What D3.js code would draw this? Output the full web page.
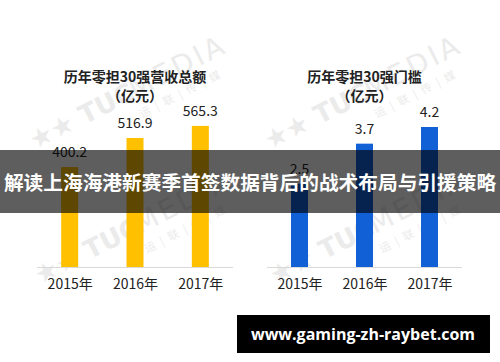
<!DOCTYPE html>
<html><head><meta charset="utf-8">
<script src="https://cdn.jsdelivr.net/npm/d3@7"></script>
<style>html,body{margin:0;padding:0;background:#fff;}svg{display:block;}</style>
</head><body>
<script>
const years = ["2015年", "2016年", "2017年"];
const revenue = [400.2, 516.9, 565.3];
const threshold = [2.5, 3.7, 4.2];
const titles = [["历年零担30强营收总额", "（亿元）"], ["历年零担30强门槛", "（亿元）"]];
const bannerText = "解读上海海港新赛季首签数据背后的战术布局与引援策略";
const footerText = "www.gaming-zh-raybet.com";

const W = 500, H = 362;
const svg = d3.select("body").append("svg").attr("width", W).attr("height", H);
const cjk = "'Noto Sans CJK SC','Noto Sans',sans-serif";

// faint watermarks
function watermark(x, y) {
  const g = svg.append("g").attr("transform", `translate(${x},${y}) rotate(-27)`).attr("fill", "#ebebeb");
  g.append("text").attr("x", 0).attr("y", 0).attr("font-family", "'DejaVu Sans',sans-serif")
    .attr("font-size", 26).attr("font-weight", "bold").text("★★ TUC");
  g.append("text").attr("x", 112).attr("y", 0).attr("font-family", "'DejaVu Sans',sans-serif")
    .attr("font-size", 28).attr("letter-spacing", 3).text("MEDIA");
  g.append("text").attr("x", 110).attr("y", 20).attr("font-family", cjk)
    .attr("font-size", 11).attr("letter-spacing", 6).text("运|联|传|媒");
}
watermark(35, 150);
watermark(270, 150);
watermark(40, 285);
watermark(275, 285);

function drawChart(x0, x1, values, maxV, color, title) {
  const x = d3.scalePoint().domain(years).range([x0, x1]).padding(0.5);
  const y = d3.scaleLinear().domain([0, maxV]).range([267, 117]);
  const bw = 17;
  const g = svg.append("g");
  g.append("line").attr("x1", x0).attr("x2", x1).attr("y1", 267.5).attr("y2", 267.5)
    .attr("stroke", "#d9d9d9").attr("stroke-width", 1);
  g.selectAll("rect.bar").data(values).join("rect").attr("class", "bar")
    .attr("x", (d, i) => x(years[i]) - bw / 2).attr("width", bw)
    .attr("y", d => y(d)).attr("height", d => y(0) - y(d)).attr("fill", color);
  g.selectAll("text.val").data(values).join("text").attr("class", "val")
    .attr("x", (d, i) => x(years[i])).attr("y", d => y(d) - 10)
    .attr("text-anchor", "middle").attr("font-family", cjk).attr("font-size", 14)
    .attr("fill", "#222").text(d => d.toFixed(1));
  const axis = d3.axisBottom(x).tickSize(0).tickPadding(0);
  const ag = g.append("g").attr("transform", "translate(0,267)").call(axis);
  ag.select(".domain").remove();
  ag.selectAll("text").attr("font-family", cjk).attr("font-size", 14).attr("fill", "#222")
    .attr("dy", null).attr("y", 22);
  const cx = (x0 + x1) / 2;
  g.append("text").attr("x", cx).attr("y", 82).attr("text-anchor", "middle")
    .attr("font-family", cjk).attr("font-size", 14).attr("font-weight", "bold").attr("fill", "#222").text(title[0]);
  g.append("text").attr("x", cx).attr("y", 101).attr("text-anchor", "middle")
    .attr("font-family", cjk).attr("font-size", 14).attr("font-weight", "bold").attr("fill", "#222").text(title[1]);
}
drawChart(37, 233, revenue, 601, "#FFC000", titles[0]);
drawChart(267, 462, threshold, 4.5, "#1160D6", titles[1]);

// banner overlay
svg.append("rect").attr("x", 0).attr("y", 150).attr("width", W).attr("height", 63)
  .attr("fill", "rgba(0,0,0,0.63)");
svg.append("text").attr("x", W / 2).attr("y", 190).attr("text-anchor", "middle")
  .attr("font-family", cjk).attr("font-size", 19.7).attr("font-weight", "bold")
  .attr("fill", "#fff").text(bannerText);

// footer box
svg.append("rect").attr("x", 237).attr("y", 315).attr("width", 253).attr("height", 38).attr("fill", "#000");
svg.append("text").attr("x", 363).attr("y", 339.5).attr("text-anchor", "middle")
  .attr("font-family", "'Open Sans',sans-serif").attr("font-size", 16).attr("font-weight", "bold")
  .attr("fill", "#fff").text(footerText);
</script>
</body></html>
